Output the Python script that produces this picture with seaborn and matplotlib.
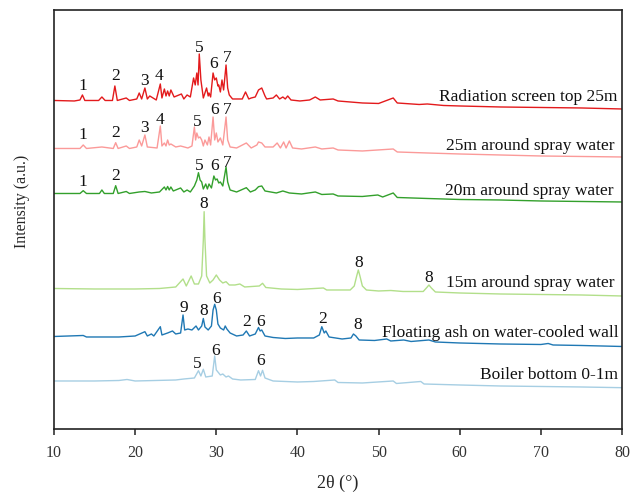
import matplotlib
matplotlib.use('Agg')
import matplotlib.pyplot as plt
import pandas as pd
import seaborn as sns

# sample names (top to bottom in the stack)
samples = ['Radiation screen top 25m', '25m around spray water', '20m around spray water',
           '15m around spray water', 'Floating ash on water-cooled wall', 'Boiler bottom 0-1m']

# XRD traces (2theta in degrees, intensity in a.u. incl. stack offset)
theta_top25 = [10.0, 12.5, 13.2, 13.5, 13.8, 15.5, 15.9, 16.3, 17.2, 17.5, 17.8, 18.9, 19.3, 20.2, 20.5,
               20.8, 21.2, 21.5, 21.8, 22.6, 23.1, 23.3, 23.6, 23.8, 24.0, 24.2, 24.4, 24.8, 25.7, 26.0,
               26.4, 26.8, 27.2, 27.4, 27.6, 27.75, 27.9, 28.1, 28.4, 28.8, 29.0, 29.1, 29.3, 29.6, 29.8,
               30.0, 30.2, 30.3, 30.5, 30.7, 30.9, 31.2, 31.4, 31.6, 32.0, 32.5, 33.2, 33.6, 34.0, 34.3,
               34.8, 35.2, 35.6, 36.0, 36.2, 37.0, 37.4, 37.8, 38.2, 38.5, 38.8, 39.2, 40.3, 41.5, 42.2,
               42.8, 44.4, 45.0, 46.5, 48.0, 50.0, 51.8, 52.3, 55.0, 56.0, 58.0, 60.0, 65.0, 70.0, 75.0, 80.0]
int_top25 = [328.5, 328, 329, 334, 328.5, 328.5, 332, 328.5, 328.5, 343, 328.5, 331, 328.5, 330, 336,
             330, 341, 330, 333, 329, 345, 331, 340, 333, 338, 333, 339, 332, 335, 330,
             334, 332, 351, 344, 356, 344, 375, 349, 331, 341, 333, 336, 332, 356, 349,
             351, 343, 344, 337, 349, 339, 364, 341, 334, 330, 330, 330, 337, 330, 331,
             332, 339, 341, 333, 330, 331, 334, 330, 332, 330, 333, 329, 328, 329, 332,
             329, 330, 328, 327, 326, 325.5, 331, 326, 324.5, 325, 323.5, 323, 322, 321.5, 321, 320]

theta_spray25 = [10, 13.2, 13.6, 14.0, 15.9, 17.3, 17.6, 17.9, 18.9, 19.3, 20.2, 20.5, 20.8, 21.2, 21.5,
                 22.7, 23.1, 23.3, 23.6, 23.8, 24.0, 24.2, 24.4, 25.0, 25.6, 26.5, 27.0, 27.3, 27.45, 27.6,
                 27.8, 28.0, 28.2, 28.4, 28.6, 28.9, 29.1, 29.3, 29.6, 29.8, 30.0, 30.2, 30.5, 30.8, 31.2,
                 31.4, 31.7, 32.5, 33.7, 34.3, 35.0, 35.2, 35.6, 36.0, 37.0, 37.5, 37.9, 38.3, 38.6, 39.0,
                 39.4, 40.5, 42.2, 43.0, 44.4, 45.0, 48.0, 51.8, 52.3, 56.0, 60.0, 65.0, 70.0, 75.0, 80.0]
int_spray25 = [280.5, 280.5, 284, 280.5, 282, 280.5, 286.3, 280.5, 283, 280.5, 282, 289, 283, 294, 282,
               281, 303, 283, 286, 283, 289, 284, 285, 282, 283, 281, 283, 302, 289, 296,
               291, 292, 289, 283, 289, 284, 292, 284, 312, 289, 296, 287, 291, 284, 312,
               289, 282, 281, 286, 281, 284, 287, 286, 282, 282, 286, 281, 287, 281, 288,
               281, 280, 282, 280, 281, 279, 278, 280, 277, 276, 275, 274, 273, 272.5, 272]

theta_spray20 = [10, 13.2, 13.6, 14.0, 15.6, 15.9, 16.2, 17.3, 17.6, 17.9, 18.9, 19.3, 20.5, 21.2, 22.0,
                 23.0, 23.6, 23.8, 24.0, 24.2, 24.4, 24.7, 25.6, 26.0, 26.4, 26.8, 27.3, 27.6, 27.8, 28.0,
                 28.2, 28.4, 28.7, 28.9, 29.1, 29.4, 29.7, 29.9, 30.1, 30.3, 30.5, 30.8, 31.2, 31.4, 31.7,
                 32.5, 33.7, 34.2, 34.8, 35.2, 35.6, 36.0, 37.4, 38.2, 39.0, 40.5, 42.2, 43.0, 44.4, 45.0,
                 48.0, 49.9, 50.5, 51.8, 52.3, 56.0, 60.0, 65.0, 70.0, 75.0, 80.0]
int_spray20 = [235.5, 235.5, 238.3, 235.5, 235.5, 239, 235.5, 235.5, 243.3, 235.5, 237.5, 235.5, 237, 237.5, 236,
               237, 242, 239, 242.5, 239, 242, 238, 241, 237, 239, 237, 243, 249, 256.3, 249,
               247, 240, 245, 240, 245, 241, 253, 249, 250, 246, 247, 243, 262, 247, 239,
               237, 241.3, 237, 239, 242.3, 243, 238, 236, 238, 236, 235, 237, 234.5, 235, 233,
               232.5, 234, 232, 236, 231.5, 230.5, 229.5, 229, 228, 227.5, 227]

theta_spray15 = [10, 15, 20, 23, 25.0, 25.9, 26.3, 26.9, 27.3, 27.8, 28.2, 28.4, 28.5, 28.6, 28.8,
                 29.2, 29.6, 30.0, 30.4, 30.8, 31.2, 31.6, 32.3, 32.9, 33.5, 35.3, 35.7, 36.1, 38.0, 40.0,
                 43.2, 43.6, 46.5, 47.0, 47.3, 47.5, 47.7, 48.0, 48.5, 50.0, 51.5, 53.0, 55.5, 56.0, 56.2,
                 56.5, 57.0, 60.0, 65.0, 70.0, 75.0, 80.0]
int_spray15 = [140.5, 140, 140, 140.5, 142, 150, 143, 153, 145, 145, 153, 189, 217.3, 189, 153,
               146, 149, 154, 149, 146, 147.3, 144, 144, 145, 142, 143, 145.7, 141.5, 140, 139.5,
               141, 139, 139, 143, 153, 159, 153, 143, 139, 138, 138.5, 137.5, 137.5, 142, 144,
               141, 137, 136, 135, 134.5, 134, 133]

theta_wall = [10, 13.6, 14, 18, 20, 21.2, 21.5, 22.0, 22.3, 23.1, 23.3, 24.0, 24.6, 25.0, 25.6,
              25.9, 26.1, 26.5, 27.0, 27.5, 27.8, 28.2, 28.4, 28.6, 29.0, 29.4, 29.6, 29.8, 30.0, 30.2,
              30.5, 30.9, 31.1, 31.3, 31.7, 32.5, 33.3, 33.7, 34.1, 34.8, 35.2, 35.4, 35.6, 36.0, 37.0,
              38.5, 40.0, 42.0, 42.7, 43.0, 43.3, 43.5, 43.9, 45.5, 46.6, 46.9, 47.2, 47.6, 49.5, 51.0,
              51.5, 53.1, 54.0, 56.2, 57.0, 60.0, 65.0, 70.0, 70.9, 71.5, 75.0, 80.0]
int_wall = [92.5, 93.5, 92, 92, 93, 97.3, 93, 95, 93, 102.3, 94, 96, 98, 95, 96,
            114, 99, 100, 99, 103, 99, 103, 110.5, 102, 99, 103, 119, 124.7, 119, 105,
            101, 99, 103, 100, 96, 93, 94, 98, 93, 95, 101.5, 98, 99, 93, 91.5,
            90.5, 91, 91, 94, 102.3, 96, 98, 92, 90, 91, 95, 93, 89, 88.5, 90,
            88, 89, 87.5, 89, 87, 86, 85, 84.5, 85.5, 84, 83.5, 82.5]

theta_bottom = [10, 15, 18, 19, 20, 25, 26, 27.3, 27.8, 28.1, 28.4, 28.7, 29.5, 29.8, 30.0,
                30.2, 30.5, 30.8, 31.2, 31.5, 32, 33, 34.8, 35.2, 35.45, 35.7, 36.0, 37, 40, 42,
                44.6, 45, 48, 51.8, 52.2, 55.2, 55.6, 60, 65, 70, 75, 80]
int_bottom = [48, 48, 48.5, 49.5, 48, 49, 50, 51, 58.3, 53, 59.7, 52, 53, 73, 59,
              57, 54, 55, 52, 53, 50, 49, 49.5, 58.3, 53, 58.7, 51, 48, 47, 47.5,
              49, 46.5, 46, 48, 45.5, 47.5, 45, 44, 43, 42.5, 42, 41.3]

# phase markers: (label, 2theta, intensity) for each trace
marks_top25 = [('1', 13.5, 338.7), ('2', 17.6, 348.7), ('3', 21.2, 344.4), ('4', 22.95, 348.7),
               ('5', 27.9, 376.7), ('6', 29.7, 360.7), ('7', 31.35, 366.7)]
marks_spray25 = [('1', 13.6, 290.4), ('2', 17.6, 292), ('3', 21.2, 297), ('4', 23.1, 305.4),
                 ('5', 27.7, 302.7), ('6', 29.75, 314.7), ('7', 31.4, 314.7)]
marks_spray20 = [('1', 13.5, 243), ('2', 17.6, 248.7), ('5', 27.9, 258.7), ('6', 29.75, 258.7), ('7', 31.4, 262)]
marks_spray15 = [('8', 28.5, 220.7), ('8', 47.5, 162), ('8', 56.2, 147)]
marks_wall = [('9', 26.05, 116.7), ('8', 28.4, 114.2), ('6', 30.05, 126.2), ('2', 33.75, 102.7),
              ('6', 35.5, 102.7), ('2', 43.05, 106.2), ('8', 47.45, 100.4)]
marks_bottom = [('5', 27.66, 61), ('6', 29.9, 74.4), ('6', 35.5, 64.4)]

# where each sample name sits (right end, baseline)
name_x = [79.4, 79.1, 78.9, 79.1, 79.6, 79.5]
name_y = [328.3, 279, 234, 141.7, 91.7, 49.7]

thetas = [theta_top25, theta_spray25, theta_spray20, theta_spray15, theta_wall, theta_bottom]
ints = [int_top25, int_spray25, int_spray20, int_spray15, int_wall, int_bottom]
marks = [marks_top25, marks_spray25, marks_spray20, marks_spray15, marks_wall, marks_bottom]

df = pd.concat([pd.DataFrame({'two_theta': t, 'intensity': i, 'sample': s})
                for t, i, s in zip(thetas, ints, samples)], ignore_index=True)

paired = sns.color_palette('Paired')
colors = dict(zip(samples, [paired[5], paired[4], paired[3], paired[2], paired[1], paired[0]]))

sns.set_style('ticks')
plt.rcParams['font.family'] = ['Liberation Serif', 'DejaVu Serif']

fig = plt.figure(figsize=(6.31, 4.94), dpi=100)
ax = fig.add_axes([0.0856, 0.1316, 0.9002, 0.8482])

sns.lineplot(data=df, x='two_theta', y='intensity', hue='sample', palette=colors,
             estimator=None, sort=False, legend=False, linewidth=1.0, ax=ax)

for m in marks:
    for txt, x, y in m:
        ax.text(x, y, txt, ha='center', va='baseline', fontsize=12.5, color='#111111')

for s, x, y in zip(samples, name_x, name_y):
    ax.text(x, y, s, ha='right', va='baseline', fontsize=12.5, color='#111111')

ax.set_xlim(10, 80)
ax.set_ylim(0, 419)
ax.set_xticks(range(10, 81, 10))
ax.set_yticks([])
ax.tick_params(axis='x', direction='out', length=4.5, width=1.1, pad=7, labelsize=11.5,
               colors='#222222', labelcolor='#333333')
for sp in ax.spines.values():
    sp.set_visible(True)
    sp.set_linewidth(1.2)
    sp.set_color('#222222')

ax.set_xlabel('2θ (°)', fontsize=13, labelpad=10)
ax.set_ylabel('Intensity (a.u.)', fontsize=11.5)
ax.yaxis.set_label_coords(-0.042, 0.544)

fig.savefig('out.png', dpi=100)
